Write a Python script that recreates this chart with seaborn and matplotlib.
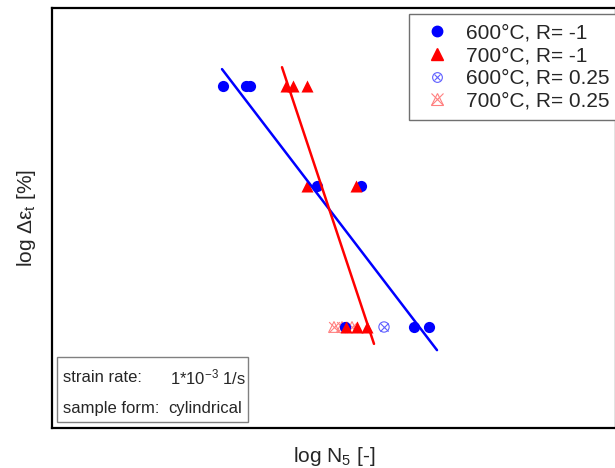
import numpy as np
import pandas as pd
import matplotlib
matplotlib.use("Agg")
import matplotlib.pyplot as plt
import seaborn as sns
from matplotlib.patches import Rectangle

# data (log N5, log strain amplitude)
n_600_r1 = [2.855, 2.97, 2.99, 3.325, 3.545, 3.465, 3.81, 3.885]
e_600_r1 = [0.0, 0.0, 0.0, -0.2075, -0.2075, -0.5, -0.5, -0.5]

n_700_r1 = [3.17, 3.205, 3.275, 3.275, 3.52, 3.47, 3.525, 3.575]
e_700_r1 = [0.0, 0.0, 0.0, -0.2075, -0.2075, -0.5, -0.5, -0.5]

n_600_r025 = [3.66]
e_600_r025 = [-0.5]

n_700_r025 = [3.41, 3.45, 3.50]
e_700_r025 = [-0.5, -0.5, -0.5]

# fitted lines (end points)
fit_600_n = [2.85, 3.925]
fit_600_e = [0.035, -0.548]
fit_700_n = [3.15, 3.61]
fit_700_e = [0.039, -0.535]

labels = ["600°C, R= -1", "700°C, R= -1", "600°C, R= 0.25", "700°C, R= 0.25"]

sns.set_style("white")
plt.rcParams['font.family'] = ['Liberation Sans', 'DejaVu Sans']
plt.rcParams['mathtext.fontset'] = 'custom'
plt.rcParams['mathtext.rm'] = 'Liberation Sans'
plt.rcParams['mathtext.it'] = 'Liberation Sans'

fig = plt.figure(figsize=(6.15, 4.68), dpi=100)
ax = fig.add_axes([52 / 615, 40 / 468, 564 / 615, 420 / 468])

blue = "#0000ff"
red = "#ff0000"

sns.lineplot(x=fit_600_n, y=fit_600_e, color=blue, lw=1.8, ax=ax, sort=False)
sns.lineplot(x=fit_700_n, y=fit_700_e, color=red, lw=1.8, ax=ax, sort=False)

sns.scatterplot(x=n_700_r025, y=e_700_r025, marker="^", s=60, facecolor="none",
                edgecolor="#ff8080", linewidth=0.8, ax=ax)
sns.scatterplot(x=n_700_r025, y=e_700_r025, marker="x", s=60, color="#ff8080",
                linewidth=0.8, ax=ax)
sns.scatterplot(x=n_600_r025, y=e_600_r025, marker="o", s=55, facecolor="none",
                edgecolor="#6060ff", linewidth=0.8, ax=ax)
sns.scatterplot(x=n_600_r025, y=e_600_r025, marker="x", s=35, color="#6060ff",
                linewidth=0.8, ax=ax)
sns.scatterplot(x=n_600_r1, y=e_600_r1, marker="o", s=65, color=blue,
                edgecolor=blue, linewidth=0, ax=ax)
sns.scatterplot(x=n_700_r1, y=e_700_r1, marker="^", s=75, color=red,
                edgecolor=red, linewidth=0, ax=ax)

ax.set_xlim(2.0, 2.0 + 564 / 200)
ax.set_ylim(-342 / 482, 78 / 482)
ax.set_xticks([])
ax.set_yticks([])
for sp in ax.spines.values():
    sp.set_linewidth(1.6)
    sp.set_color("black")

ax.set_xlabel(r"log N$_5$ [-]", fontsize=15, labelpad=12)
ax.set_ylabel(r"log $\Delta\varepsilon_t$ [%]", fontsize=15, labelpad=10)

# legend
h1 = plt.Line2D([], [], ls="none", marker="o", ms=7.5, color=blue)
h2 = plt.Line2D([], [], ls="none", marker="^", ms=8, color=red)
h3a = plt.Line2D([], [], ls="none", marker="o", ms=7, mfc="none", mec="#6060ff", mew=0.8)
h3b = plt.Line2D([], [], ls="none", marker="x", ms=5, color="#6060ff", mew=0.8)
h4a = plt.Line2D([], [], ls="none", marker="^", ms=8, mfc="none", mec="#ff8080", mew=0.8)
h4b = plt.Line2D([], [], ls="none", marker="x", ms=8, color="#ff8080", mew=0.8)
leg = ax.legend([h1, h2, (h3a, h3b), (h4a, h4b)], labels, fontsize=15,
                loc="upper left", bbox_to_anchor=(409 / 615, 1 - 14 / 468),
                bbox_transform=fig.transFigure, borderaxespad=0, fancybox=False,
                framealpha=1, labelspacing=0.18, handlelength=1.8,
                handletextpad=0.5, borderpad=0.45)
leg.get_frame().set_edgecolor("#707070")
leg.get_frame().set_linewidth(1.0)

# info box
ax.add_patch(Rectangle((5 / 564, 6 / 420), 191 / 564, 65 / 420, transform=ax.transAxes,
                       facecolor="white", edgecolor="#808080", lw=1.0, zorder=5))
ax.text(11 / 564, 51 / 420, "strain rate:", transform=ax.transAxes, fontsize=12,
        va="center", zorder=6)
ax.text(118 / 564, 51 / 420, r"1*10$^{-3}$ 1/s", transform=ax.transAxes, fontsize=12,
        va="center", zorder=6)
ax.text(11 / 564, 20 / 420, "sample form:", transform=ax.transAxes, fontsize=12,
        va="center", zorder=6)
ax.text(116 / 564, 20 / 420, "cylindrical", transform=ax.transAxes, fontsize=12,
        va="center", zorder=6)

fig.savefig("out.png", dpi=100)
